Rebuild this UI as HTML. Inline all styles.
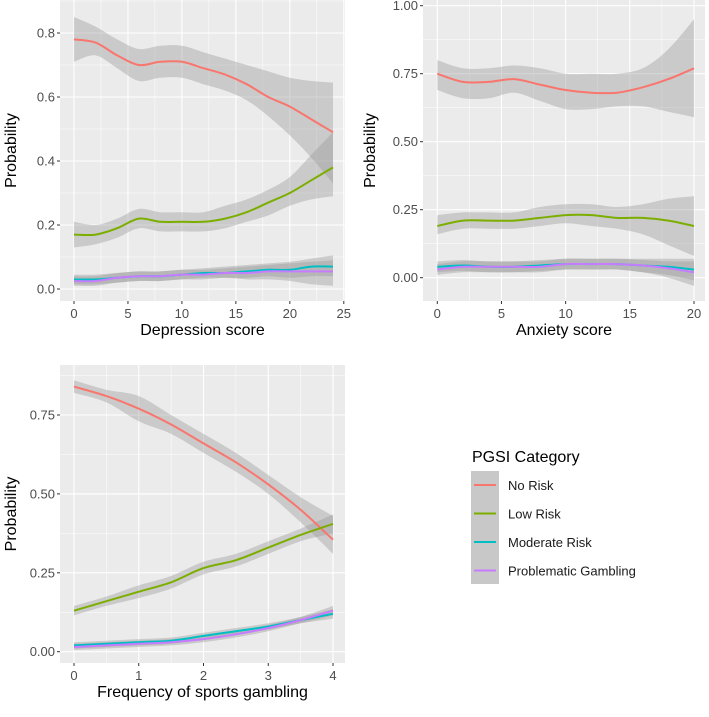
<!DOCTYPE html>
<html><head><meta charset="utf-8"><style>
body{margin:0;background:#fff;font-family:"Liberation Sans",Arial,sans-serif}
svg text{font-family:"Liberation Sans",Arial,sans-serif}
</style></head><body>
<svg id="c" width="709" height="712" xmlns="http://www.w3.org/2000/svg"></svg>
<script>
// Panel 1: Depression score
const depX = [0,2,4,6,8,10,12,14,16,18,20,22,24];
const depNo = [.78,.77,.73,.70,.71,.71,.69,.67,.64,.60,.57,.53,.49];
const depNoHi = [.85,.82,.78,.75,.76,.76,.74,.72,.70,.68,.66,.65,.645];
const depNoLo = [.71,.73,.69,.65,.66,.66,.64,.62,.59,.54,.48,.41,.33];
const depLow = [.17,.17,.19,.22,.21,.21,.21,.22,.24,.27,.30,.34,.38];
const depLowHi = [.21,.20,.22,.25,.24,.24,.24,.26,.28,.31,.35,.42,.49];
const depLowLo = [.13,.14,.16,.19,.18,.18,.18,.19,.21,.23,.26,.28,.29];
const depMod = [.03,.03,.035,.04,.04,.045,.05,.05,.055,.06,.06,.07,.07];
const depModHi = [.045,.045,.05,.055,.055,.06,.065,.07,.075,.08,.085,.095,.105];
const depModLo = [.015,.015,.02,.025,.025,.03,.035,.035,.035,.04,.035,.04,.04];
const depProb = [.025,.025,.035,.04,.04,.045,.045,.05,.05,.055,.055,.055,.055];
const depProbHi = [.04,.04,.05,.055,.055,.06,.06,.065,.07,.075,.08,.085,.09];
const depProbLo = [.01,.01,.02,.025,.025,.03,.03,.035,.03,.03,.025,.015,.01];
const depXTicks = [0,5,10,15,20,25];
const depYTicks = [0,0.2,0.4,0.6,0.8];
const depYLabels = ["0.0","0.2","0.4","0.6","0.8"];
// Panel 2: Anxiety score
const anxX = [0,2,4,6,8,10,12,14,16,18,20];
const anxNo = [.75,.72,.72,.73,.71,.69,.68,.68,.70,.73,.77];
const anxNoHi = [.80,.77,.77,.78,.77,.75,.75,.75,.77,.84,.95];
const anxNoLo = [.69,.66,.66,.68,.65,.62,.62,.63,.63,.61,.59];
const anxLow = [.19,.21,.21,.21,.22,.23,.23,.22,.22,.21,.19];
const anxLowHi = [.23,.24,.24,.24,.26,.27,.27,.26,.27,.29,.30];
const anxLowLo = [.16,.18,.18,.18,.19,.20,.19,.18,.16,.12,.08];
const anxMod = [.04,.045,.04,.04,.045,.05,.05,.05,.045,.04,.03];
const anxModHi = [.06,.065,.06,.06,.065,.07,.07,.07,.07,.07,.07];
const anxModLo = [.02,.025,.02,.02,.025,.03,.03,.03,.02,.01,-.01];
const anxProb = [.03,.04,.04,.04,.04,.05,.05,.05,.045,.035,.02];
const anxProbHi = [.05,.06,.06,.06,.06,.07,.07,.07,.065,.06,.06];
const anxProbLo = [.01,.02,.02,.02,.02,.03,.03,.03,.02,.0,-.03];
const anxXTicks = [0,5,10,15,20];
const anxYTicks = [0,0.25,0.5,0.75,1.0];
const anxYLabels = ["0.00","0.25","0.50","0.75","1.00"];
// Panel 3: Frequency of sports gambling
const frqX = [0,0.5,1,1.5,2,2.5,3,3.5,4];
const frqNo = [.84,.81,.77,.72,.66,.60,.53,.45,.355];
const frqNoHi = [.86,.83,.81,.75,.69,.63,.56,.49,.43];
const frqNoLo = [.82,.79,.73,.69,.63,.57,.50,.41,.31];
const frqLow = [.13,.16,.19,.22,.265,.29,.33,.37,.405];
const frqLowHi = [.145,.175,.21,.24,.285,.31,.35,.39,.435];
const frqLowLo = [.115,.145,.17,.20,.245,.27,.31,.35,.375];
const frqMod = [.02,.025,.03,.035,.05,.065,.08,.10,.12];
const frqModHi = [.03,.035,.04,.045,.06,.075,.09,.11,.135];
const frqModLo = [.01,.015,.02,.025,.04,.055,.07,.09,.105];
const frqProb = [.015,.02,.025,.03,.04,.055,.075,.10,.13];
const frqProbHi = [.025,.03,.035,.04,.05,.065,.085,.11,.145];
const frqProbLo = [.005,.01,.015,.02,.03,.045,.065,.09,.115];
const frqXTicks = [0,1,2,3,4];
const frqYTicks = [0,0.25,0.5,0.75];
const frqYLabels = ["0.00","0.25","0.50","0.75"];

const colors = ["#F8766D","#7CAE00","#00BFC4","#C77CFF"];
const svg = document.getElementById('c');
const NS = "http://www.w3.org/2000/svg";
function mk(tag, attrs, parent){
  const e = document.createElementNS(NS, tag);
  for (const k in attrs) e.setAttribute(k, attrs[k]);
  (parent||svg).appendChild(e);
  return e;
}
// Catmull-Rom smoothed path through points
function smooth(pts, start){
  let d = (start ? 'M' : 'L') + pts[0][0].toFixed(1)+','+pts[0][1].toFixed(1);
  for (let i=0;i<pts.length-1;i++){
    const p0 = pts[Math.max(0,i-1)], p1 = pts[i], p2 = pts[i+1], p3 = pts[Math.min(pts.length-1,i+2)];
    const c1 = [p1[0]+(p2[0]-p0[0])/6, p1[1]+(p2[1]-p0[1])/6];
    const c2 = [p2[0]-(p3[0]-p1[0])/6, p2[1]-(p3[1]-p1[1])/6];
    d += 'C'+c1[0].toFixed(1)+','+c1[1].toFixed(1)+' '+c2[0].toFixed(1)+','+c2[1].toFixed(1)+' '+p2[0].toFixed(1)+','+p2[1].toFixed(1);
  }
  return d;
}
function panel(cfg){
  const g = mk('g', {});
  
  
  const sx = v => cfg.x0 + (v - cfg.xd0) * (cfg.x1 - cfg.x0) / (cfg.xd1 - cfg.xd0);
  const sy = v => cfg.y0 + (v - cfg.yd0) * (cfg.y1 - cfg.y0) / (cfg.yd1 - cfg.yd0);
  const bg = mk('rect', {x:cfg.L, y:cfg.T, width:cfg.R-cfg.L, height:cfg.B-cfg.T, fill:'#EBEBEB'}, g);
  
  
  for (let i=0;i<cfg.xt.length-1;i++){
    const xm = sx((cfg.xt[i]+cfg.xt[i+1])/2);
    if (xm < cfg.R) mk('line',{x1:xm,x2:xm,y1:cfg.T,y2:cfg.B,stroke:'#fff','stroke-width':0.5},g);
  }
  for (let i=0;i<cfg.yt.length-1;i++){
    const ym = sy((cfg.yt[i]+cfg.yt[i+1])/2);
    mk('line',{x1:cfg.L,x2:cfg.R,y1:ym,y2:ym,stroke:'#fff','stroke-width':0.5},g);
  }
  const lastYm = sy(cfg.yt[cfg.yt.length-1] + (cfg.yt[1]-cfg.yt[0])/2);
  if (lastYm > cfg.T) mk('line',{x1:cfg.L,x2:cfg.R,y1:lastYm,y2:lastYm,stroke:'#fff','stroke-width':0.5},g);
  cfg.xt.forEach(v=>{
    const x = sx(v);
    if (x <= cfg.R) mk('line',{x1:x,x2:x,y1:cfg.T,y2:cfg.B,stroke:'#fff','stroke-width':1.1},g);
    mk('line',{x1:x,x2:x,y1:cfg.B,y2:cfg.B+3,stroke:'#333','stroke-width':1},g);
    const t = mk('text',{x:x,y:cfg.B+17,'font-size':13,fill:'#4D4D4D','text-anchor':'middle'},g);
    t.textContent = v;
    
    
  });
  cfg.yt.forEach((v,i)=>{
    const y = sy(v);
    mk('line',{x1:cfg.L,x2:cfg.R,y1:y,y2:y,stroke:'#fff','stroke-width':1.1},g);
    mk('line',{x1:cfg.L-3,x2:cfg.L,y1:y,y2:y,stroke:'#333','stroke-width':1},g);
    const t = mk('text',{x:cfg.L-5,y:y+4.5,'font-size':13,fill:'#4D4D4D','text-anchor':'end'},g);
    t.textContent = cfg.yl[i];
    
    
  });
  cfg.series.forEach((s,k)=>{
    const hi = cfg.xs.map((x,i)=>[sx(x),sy(s.hi[i])]);
    const lo = cfg.xs.map((x,i)=>[sx(x),sy(s.lo[i])]).reverse();
    const d = smooth(hi,true) + smooth(lo,false) + 'Z';
    const rb = mk('path',{d:d,fill:'#999','fill-opacity':0.4},g);
    
    
  });
  cfg.series.forEach((s,k)=>{
    const d = smooth(cfg.xs.map((x,i)=>[sx(x),sy(s.v[i])]),true);
    const ln = mk('path',{d:d,fill:'none',stroke:colors[k],'stroke-width':2,'stroke-linejoin':'round'},g);
    
    
  });
  const xt = mk('text',{x:(cfg.L+cfg.R)/2,y:cfg.B+34,'font-size':16,fill:'#000','text-anchor':'middle'},g);
  xt.textContent = cfg.xlab;
  
  
  const yc = (cfg.T+cfg.B)/2;
  const yt = mk('text',{x:cfg.ylx,y:yc,'font-size':16,fill:'#000','text-anchor':'middle',transform:`rotate(-90 ${cfg.ylx} ${yc})`},g);
  yt.textContent = 'Probability';
  
  
}
panel({name:'depression-panel',L:60,R:345,T:0,B:301,x0:74,x1:333,xd0:0,xd1:24,y0:289,y1:33,yd0:0,yd1:0.8,
  xt:depXTicks,yt:depYTicks,yl:depYLabels,xs:depX,xlab:'Depression score',ylx:16,
  series:[{key:'no-risk',v:depNo,hi:depNoHi,lo:depNoLo},{key:'low-risk',v:depLow,hi:depLowHi,lo:depLowLo},
          {key:'moderate-risk',v:depMod,hi:depModHi,lo:depModLo},{key:'problematic',v:depProb,hi:depProbHi,lo:depProbLo}]});
panel({name:'anxiety-panel',L:423,R:705,T:0,B:301,x0:437.3,x1:694,xd0:0,xd1:20,y0:277.7,y1:5.7,yd0:0,yd1:1.0,
  xt:anxXTicks,yt:anxYTicks,yl:anxYLabels,xs:anxX,xlab:'Anxiety score',ylx:375,
  series:[{key:'no-risk',v:anxNo,hi:anxNoHi,lo:anxNoLo},{key:'low-risk',v:anxLow,hi:anxLowHi,lo:anxLowLo},
          {key:'moderate-risk',v:anxMod,hi:anxModHi,lo:anxModLo},{key:'problematic',v:anxProb,hi:anxProbHi,lo:anxProbLo}]});
panel({name:'frequency-panel',L:60,R:345,T:365,B:663,x0:74,x1:333,xd0:0,xd1:4,y0:651.7,y1:415,yd0:0,yd1:0.75,
  xt:frqXTicks,yt:frqYTicks,yl:frqYLabels,xs:frqX,xlab:'Frequency of sports gambling',ylx:16,
  series:[{key:'no-risk',v:frqNo,hi:frqNoHi,lo:frqNoLo},{key:'low-risk',v:frqLow,hi:frqLowHi,lo:frqLowLo},
          {key:'moderate-risk',v:frqMod,hi:frqModHi,lo:frqModLo},{key:'problematic',v:frqProb,hi:frqProbHi,lo:frqProbLo}]});

const legendLabels = ["No Risk","Low Risk","Moderate Risk","Problematic Gambling"];
const lg = mk('g',{});


const lt = mk('text',{x:472,y:462,'font-size':16,fill:'#000'},lg);
lt.textContent = 'PGSI Category';


mk('rect',{x:471,y:471,width:28,height:113,fill:'#C8C8C8'},lg);
legendLabels.forEach((l,i)=>{
  const y = 485 + i*28.5;
  const e = mk('g',{},lg);
  
  
  mk('line',{x1:474,x2:496,y1:y,y2:y,stroke:colors[i],'stroke-width':2},e);
  const t = mk('text',{x:508,y:y+5,'font-size':13,fill:'#1A1A1A'},e);
  t.textContent = l;
});
</script>
</body></html>
